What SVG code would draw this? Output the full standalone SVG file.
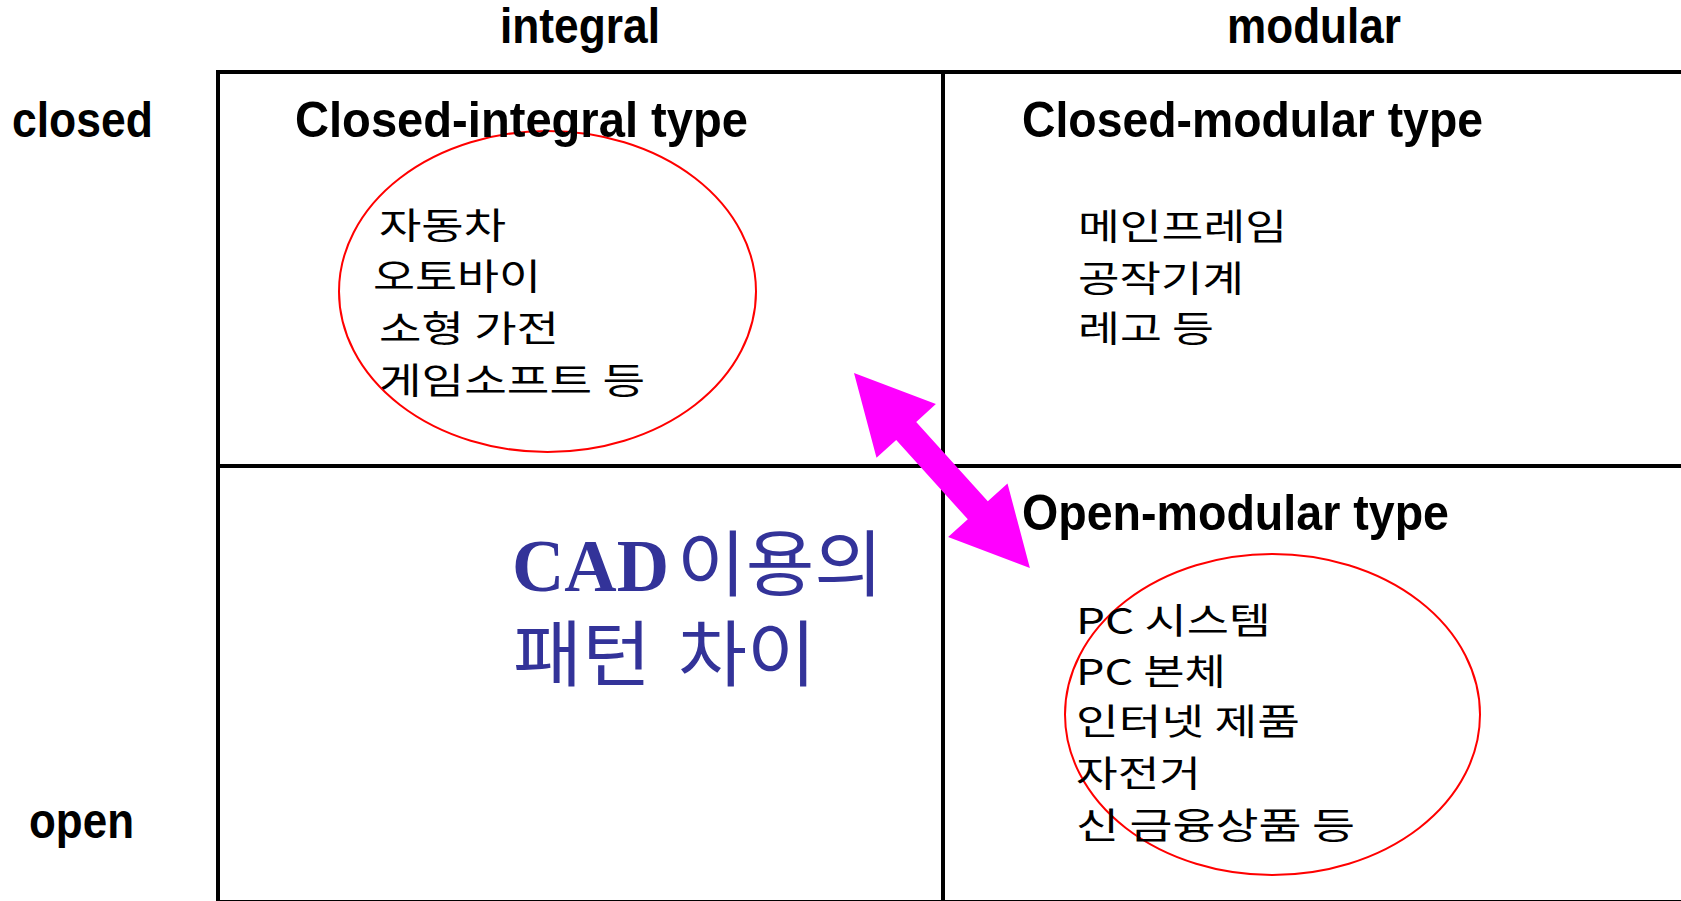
<svg xmlns="http://www.w3.org/2000/svg" width="1681" height="901" viewBox="0 0 1681 901">
  <style>
    .grid { fill: none; stroke: #000; stroke-width: 4; }
    .axis { font-family: "Liberation Sans", Arial, sans-serif; font-weight: bold; font-size: 50px; fill: #000; }
    .item { font-family: "Noto Sans CJK KR", "Noto Sans", sans-serif; font-size: 36px; fill: #000; }
    .ring { fill: none; stroke: #ff0000; stroke-width: 2; }
    .title { fill: #333399; }
    .title-latin { font-family: "Liberation Serif", "Times New Roman", serif; font-weight: bold; font-size: 74px; }
    .title-kr { font-family: "Noto Sans CJK KR", sans-serif; font-size: 72px; }
  </style>
  <rect width="1681" height="901" fill="#fff"/>

  <!-- 2x2 matrix frame -->
  <g id="matrix">
    <rect class="grid" x="218" y="72" width="1470" height="830"/>
    <line class="grid" x1="943" y1="72" x2="943" y2="901"/>
    <line class="grid" x1="218" y1="466" x2="1681" y2="466"/>
  </g>

  <!-- axis labels -->
  <g id="axis-labels">
    <text class="axis" x="500" y="43" textLength="160" lengthAdjust="spacingAndGlyphs">integral</text>
    <text class="axis" x="1227" y="43" textLength="174" lengthAdjust="spacingAndGlyphs">modular</text>
    <text class="axis" x="12" y="137" textLength="141" lengthAdjust="spacingAndGlyphs">closed</text>
    <text class="axis" x="29" y="838" textLength="105" lengthAdjust="spacingAndGlyphs">open</text>
  </g>

  <!-- closed-integral quadrant -->
  <g id="closed-integral">
    <ellipse class="ring" cx="547.5" cy="291.5" rx="208.5" ry="160.5"/>
    <text class="axis" x="295" y="137" textLength="453" lengthAdjust="spacingAndGlyphs">Closed-integral type</text>
    <text class="item" x="379" y="239" textLength="127" lengthAdjust="spacingAndGlyphs">자동차</text>
    <text class="item" x="373" y="290" textLength="168" lengthAdjust="spacingAndGlyphs">오토바이</text>
    <text class="item" x="379" y="342" textLength="180" lengthAdjust="spacingAndGlyphs">소형 가전</text>
    <text class="item" x="379" y="394" textLength="266" lengthAdjust="spacingAndGlyphs">게임소프트 등</text>
  </g>

  <!-- closed-modular quadrant -->
  <g id="closed-modular">
    <text class="axis" x="1022" y="137" textLength="461" lengthAdjust="spacingAndGlyphs">Closed-modular type</text>
    <text class="item" x="1078" y="240" textLength="209" lengthAdjust="spacingAndGlyphs">메인프레임</text>
    <text class="item" x="1078" y="292" textLength="166" lengthAdjust="spacingAndGlyphs">공작기계</text>
    <text class="item" x="1078" y="342" textLength="136" lengthAdjust="spacingAndGlyphs">레고 등</text>
  </g>

  <!-- open-integral quadrant: caption -->
  <g id="caption" class="title">
    <text class="title-latin" x="512" y="591" textLength="157" lengthAdjust="spacingAndGlyphs">CAD</text>
    <text class="title-kr" x="677" y="590" textLength="206" lengthAdjust="spacingAndGlyphs">이용의</text>
    <text class="title-kr" x="513" y="680" textLength="138" lengthAdjust="spacingAndGlyphs">패턴</text>
    <text class="title-kr" x="678" y="680" textLength="138" lengthAdjust="spacingAndGlyphs">차이</text>
  </g>

  <!-- open-modular quadrant -->
  <g id="open-modular">
    <ellipse class="ring" cx="1272.5" cy="714.5" rx="207.5" ry="160.5"/>
    <text class="axis" x="1022" y="530" textLength="427" lengthAdjust="spacingAndGlyphs">Open-modular type</text>
    <text class="item" x="1076" y="634" textLength="195" lengthAdjust="spacingAndGlyphs">PC 시스템</text>
    <text class="item" x="1076" y="685" textLength="150" lengthAdjust="spacingAndGlyphs">PC 본체</text>
    <text class="item" x="1076" y="735" textLength="224" lengthAdjust="spacingAndGlyphs">인터넷 제품</text>
    <text class="item" x="1076" y="787" textLength="125" lengthAdjust="spacingAndGlyphs">자전거</text>
    <text class="item" x="1076" y="839" textLength="279" lengthAdjust="spacingAndGlyphs">신 금융상품 등</text>
  </g>

  <!-- connectors -->
  <g id="connectors">
    <polygon fill="#ff00ff" points="854,373 935.9,404.1 916.2,421.9 987.8,501.3 1007.5,483.5 1029.9,568.1 948.1,537.1 967.8,519.3 896.2,439.9 876.5,457.7"/>
  </g>
</svg>
